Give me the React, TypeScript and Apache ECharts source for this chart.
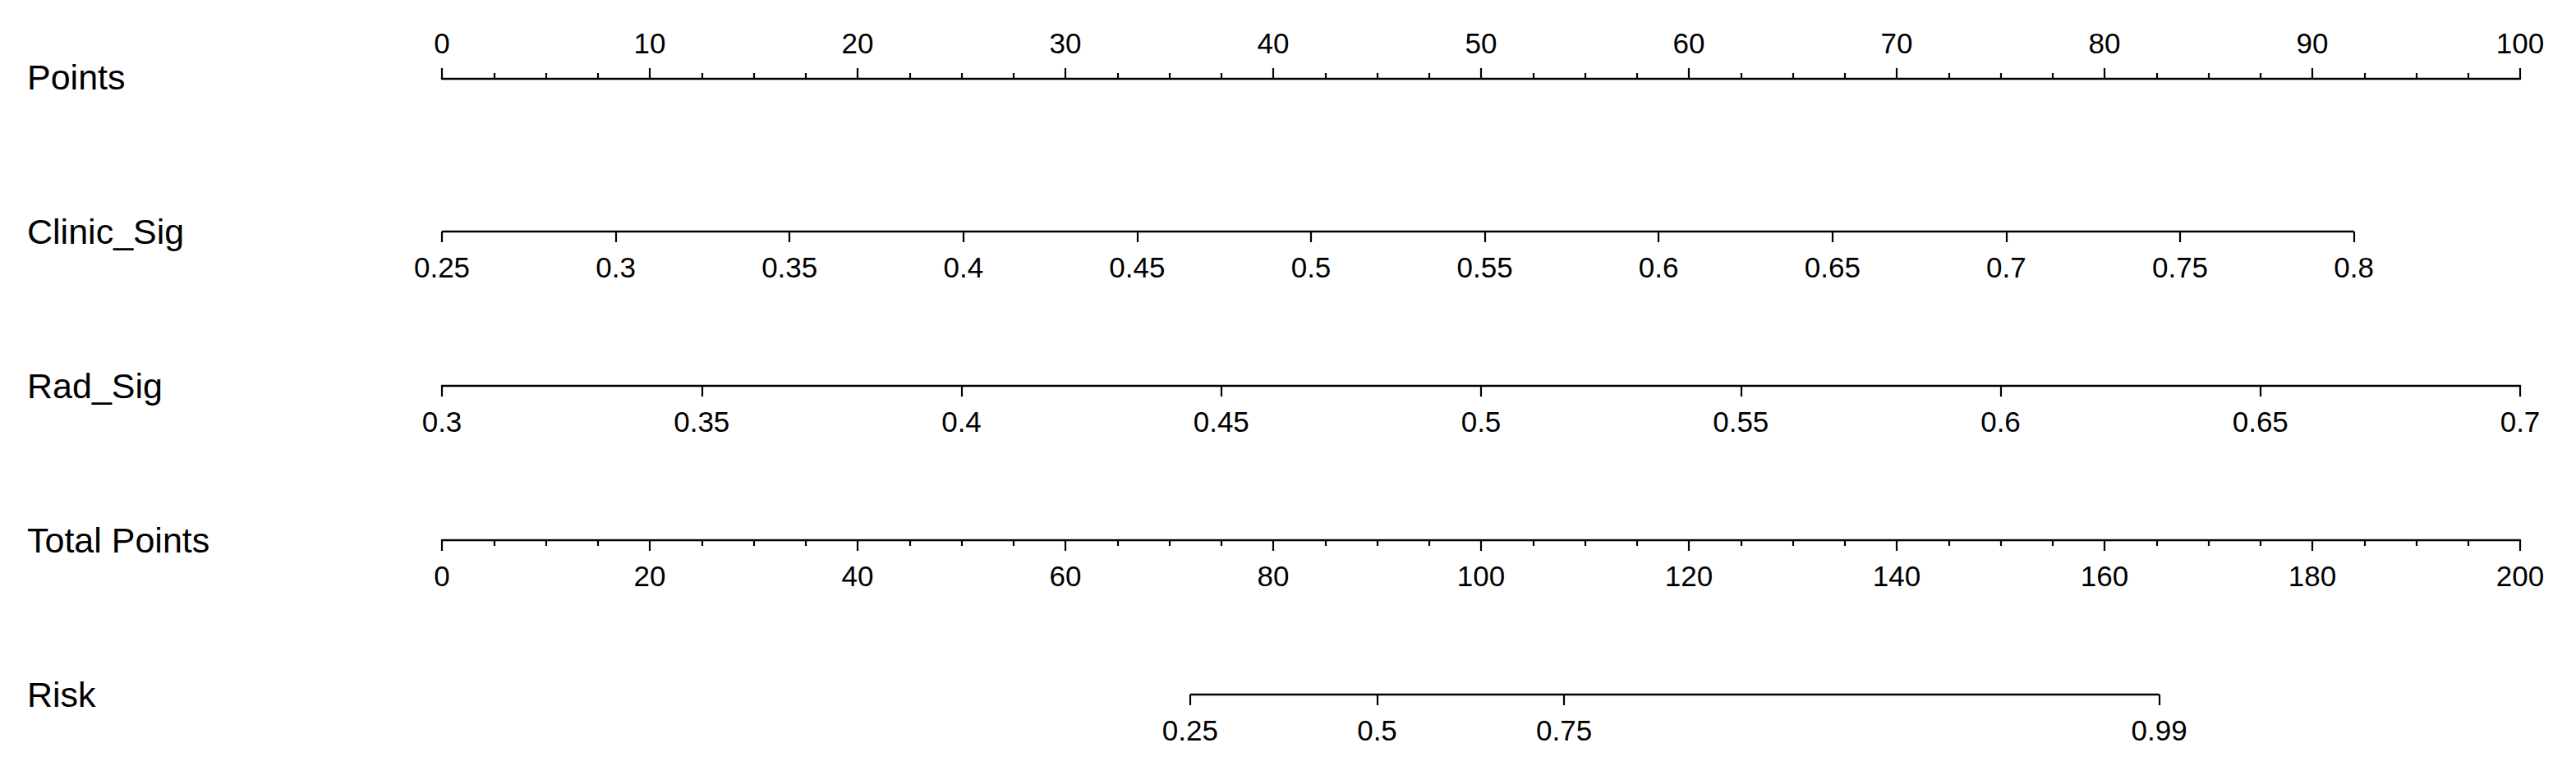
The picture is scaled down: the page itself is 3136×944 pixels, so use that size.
import React, { useEffect, useRef } from "react";
import * as echarts from "echarts";

// ---- data ----
const rowLabels = ["Points", "Clinic_Sig", "Rad_Sig", "Total Points", "Risk"];
const pointsTicks = [0, 10, 20, 30, 40, 50, 60, 70, 80, 90, 100];
const clinicSigTicks = [0.25, 0.3, 0.35, 0.4, 0.45, 0.5, 0.55, 0.6, 0.65, 0.7, 0.75, 0.8];
const clinicSigPoints = [0, 92]; // points at first and last tick
const radSigTicks = [0.3, 0.35, 0.4, 0.45, 0.5, 0.55, 0.6, 0.65, 0.7];
const radSigPoints = [0, 100];
const totalPointsTicks = [0, 20, 40, 60, 80, 100, 120, 140, 160, 180, 200];
const riskTicks = [0.25, 0.5, 0.75, 0.99];
const riskTotalAtHalf = 90; // total points where risk = 0.5
const riskTotalPerLogit = 16.38; // total points per unit of log-odds

// ---- layout ----
const W = 3136;
const H = 944;
const AXIS_LEFT = 538;
const AXIS_RIGHT_END = 3068;
const ROW_Y = [94, 282, 470, 658, 846];
const FONT = "'Liberation Sans', Arial, Helvetica, sans-serif";

const logit = (p: number) => Math.log(p / (1 - p));
const invLogit = (v: number) => 1 / (1 + Math.exp(-v));
const fmt = (v: number) => String(+v.toFixed(2));

function linearRange(ticks: number[], pts: number[], maxPts: number) {
  const a = ticks[0];
  const b = ticks[ticks.length - 1];
  const perPoint = (b - a) / (pts[1] - pts[0]);
  return { min: a - pts[0] * perPoint, max: a + (maxPts - pts[0]) * perPoint };
}

export default function App() {
  const ref = useRef<HTMLDivElement>(null);
  useEffect(() => {
    document.body.style.margin = "0";
    if (!ref.current) return;
    const chart = echarts.init(ref.current, undefined, { renderer: "svg" });

    const lineStyle = { color: "#000", width: 2.4 };
    const tickStyle = { color: "#000", width: 2.2 };
    const labelBase = { color: "#000", fontSize: 35, fontFamily: FONT };

    const grids = ROW_Y.map((y, i) => ({
      left: AXIS_LEFT,
      right: W - AXIS_RIGHT_END,
      top: i === 0 ? y : y - 2,
      height: 2,
    }));

    const clinicRange = linearRange(clinicSigTicks, clinicSigPoints, 100);
    const radRange = linearRange(radSigTicks, radSigPoints, 100);
    const riskMin = (0 - riskTotalAtHalf) / riskTotalPerLogit;
    const riskMax = (200 - riskTotalAtHalf) / riskTotalPerLogit;
    const riskLogits = riskTicks.map(logit);

    const xAxes: any[] = [
      {
        gridIndex: 0,
        type: "value",
        position: "top",
        min: pointsTicks[0],
        max: pointsTicks[pointsTicks.length - 1],
        interval: 10,
        axisLine: { show: true, lineStyle },
        axisTick: { show: true, length: 13, lineStyle: tickStyle },
        minorTick: { show: true, splitNumber: 4, length: 7, lineStyle: tickStyle },
        axisLabel: { ...labelBase, margin: 24 },
        splitLine: { show: false },
        minorSplitLine: { show: false },
      },
      {
        gridIndex: 1,
        type: "value",
        position: "bottom",
        min: clinicRange.min,
        max: clinicRange.max,
        axisLine: { show: false },
        axisTick: { show: true, length: 13, lineStyle: tickStyle, customValues: clinicSigTicks },
        axisLabel: { ...labelBase, margin: 26, customValues: clinicSigTicks, formatter: (v: number) => fmt(v) },
        splitLine: { show: false },
      },
      {
        gridIndex: 2,
        type: "value",
        position: "bottom",
        min: radRange.min,
        max: radRange.max,
        axisLine: { show: true, lineStyle },
        axisTick: { show: true, length: 13, lineStyle: tickStyle, customValues: radSigTicks },
        axisLabel: { ...labelBase, margin: 26, customValues: radSigTicks, formatter: (v: number) => fmt(v) },
        splitLine: { show: false },
      },
      {
        gridIndex: 3,
        type: "value",
        position: "bottom",
        min: totalPointsTicks[0],
        max: totalPointsTicks[totalPointsTicks.length - 1],
        interval: 20,
        axisLine: { show: true, lineStyle },
        axisTick: { show: true, length: 13, lineStyle: tickStyle },
        minorTick: { show: true, splitNumber: 4, length: 7, lineStyle: tickStyle },
        axisLabel: { ...labelBase, margin: 26 },
        splitLine: { show: false },
        minorSplitLine: { show: false },
      },
      {
        gridIndex: 4,
        type: "value",
        position: "bottom",
        min: riskMin,
        max: riskMax,
        axisLine: { show: false },
        axisTick: { show: true, length: 13, lineStyle: tickStyle, customValues: riskLogits },
        axisLabel: { ...labelBase, margin: 26, customValues: riskLogits, formatter: (v: number) => fmt(invLogit(v)) },
        splitLine: { show: false },
      },
    ];

    const yAxes = ROW_Y.map((_, i) => ({ gridIndex: i, type: "value", min: 0, max: 1, show: false }));

    const segment = (xIdx: number, a: number, b: number) => ({
      type: "line",
      xAxisIndex: xIdx,
      yAxisIndex: xIdx,
      data: [[a, 0], [b, 0]],
      symbol: "none",
      clip: false,
      silent: true,
      lineStyle: { color: "#000", width: 2.4 },
    });

    chart.setOption({
      animation: false,
      backgroundColor: "#fff",
      grid: grids,
      xAxis: xAxes,
      yAxis: yAxes,
      series: [
        segment(1, clinicSigTicks[0], clinicSigTicks[clinicSigTicks.length - 1]),
        segment(4, riskLogits[0], riskLogits[riskLogits.length - 1]),
      ],
      graphic: rowLabels.map((t, i) => ({
        type: "text",
        x: 33,
        y: ROW_Y[i],
        style: { text: t, fontSize: 43, fontFamily: FONT, fill: "#000", verticalAlign: "middle", align: "left" },
      })),
    });
    return () => chart.dispose();
  }, []);
  return <div ref={ref} style={{ width: W + "px", height: H + "px" }} />;
}
